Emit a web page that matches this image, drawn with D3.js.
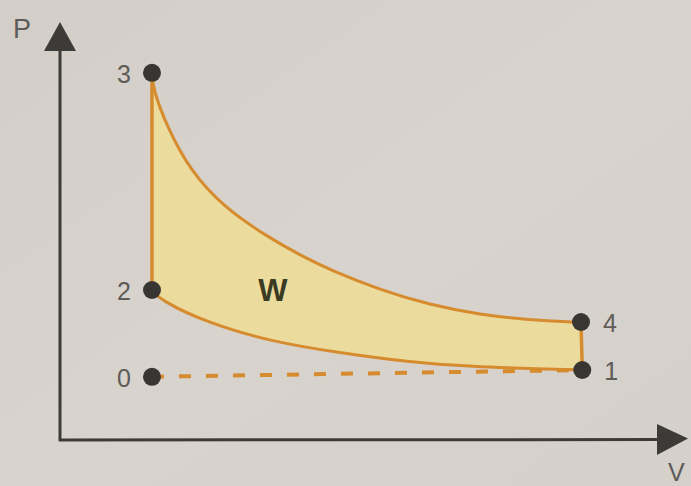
<!DOCTYPE html>
<html>
<head>
<meta charset="utf-8">
<script src="https://cdn.jsdelivr.net/npm/d3@7"></script>
<style>
  html, body { margin: 0; padding: 0; background: #d7d2cc; }
  svg { display: block; }
</style>
</head>
<body>
<div id="chart"></div>
<script>
// state points of the cycle (V, P in chart units)
var stateNames = ["0", "1", "2", "3", "4"];
var stateV = [1.46, 8.29, 1.46, 1.46, 8.27];
var stateP = [1.58, 1.75, 3.75, 9.18, 2.95];

// expansion 3 -> 4
var expV = [1.46, 1.48, 1.70, 2.06, 2.59, 3.29, 3.86, 4.29, 5.08, 5.87, 6.67, 7.46, 8.14, 8.27];
var expP = [9.18, 8.75, 7.83, 6.75, 5.83, 5.08, 4.58, 4.25, 3.75, 3.38, 3.13, 3.00, 2.95, 2.95];

// compression 1 -> 2 (stored left to right: 2 ... 1)
var compV = [1.46, 1.59, 2.33, 3.38, 4.44, 5.51, 6.56, 7.62, 8.29];
var compP = [3.75, 3.50, 2.93, 2.45, 2.18, 1.95, 1.83, 1.78, 1.75];

var width = 691, height = 486;
var lineColor = '#d68b2e';
var fillColor = '#ebdc9e';
var axisColor = '#3d3b38';
var dotColor = '#383633';
var labelColor = '#5e5c58';

var x = d3.scaleLinear().domain([0, 10]).range([60, 690]);
var y = d3.scaleLinear().domain([0, 10]).range([440, 40]);

var svg = d3.select("#chart").append("svg")
  .attr("width", width)
  .attr("height", height);

// paper background
var defs = svg.append("defs");
var grad = defs.append("linearGradient").attr("id", "paper")
  .attr("x1", 0).attr("y1", 0).attr("x2", 1).attr("y2", 1);
grad.append("stop").attr("offset", "0%").attr("stop-color", "#d3cec8");
grad.append("stop").attr("offset", "50%").attr("stop-color", "#d8d3cd");
grad.append("stop").attr("offset", "100%").attr("stop-color", "#d5d0ca");
svg.append("rect").attr("width", width).attr("height", height).attr("fill", "url(#paper)");

var expPts = expV.map((v, i) => [v, expP[i]]);
var compPts = compV.map((v, i) => [v, compP[i]]);

var line = d3.line()
  .x(d => x(d[0]))
  .y(d => y(d[1]))
  .curve(d3.curveBasis);

// enclosed work area: 3 -> 4 -> 1 -> 2 -> 3
var topPath = line(expPts);
var botRev = line(compPts.slice().reverse());
var areaPath = topPath + "L" + botRev.slice(1) + "Z";

svg.append("path")
  .attr("d", areaPath)
  .attr("fill", fillColor)
  .attr("stroke", "none");

// dashed intake line 0 -> 1
svg.append("line")
  .attr("x1", x(stateV[0])).attr("y1", y(stateP[0]))
  .attr("x2", x(stateV[1])).attr("y2", y(stateP[1]))
  .attr("stroke", lineColor)
  .attr("stroke-width", 4)
  .attr("stroke-dasharray", "12,15");

// process lines
svg.append("path").attr("d", topPath)
  .attr("fill", "none").attr("stroke", lineColor).attr("stroke-width", 3);
svg.append("path").attr("d", line(compPts))
  .attr("fill", "none").attr("stroke", lineColor).attr("stroke-width", 3);
// 2 -> 3 and 4 -> 1 vertical strokes
[[2, 3], [4, 1]].forEach(function(p) {
  svg.append("line")
    .attr("x1", x(stateV[p[0]])).attr("y1", y(stateP[p[0]]))
    .attr("x2", x(stateV[p[1]])).attr("y2", y(stateP[p[1]]))
    .attr("stroke", lineColor).attr("stroke-width", 3.5);
});

// axes with arrowheads
var x0 = x(0), y0 = y(0);
svg.append("line")
  .attr("x1", x0).attr("y1", y0 + 1).attr("x2", x0).attr("y2", 48)
  .attr("stroke", axisColor).attr("stroke-width", 3);
svg.append("path")
  .attr("d", `M${x0},22 L${x0 + 16},51 L${x0 - 16},51 Z`)
  .attr("fill", axisColor);
svg.append("line")
  .attr("x1", x0 - 1).attr("y1", y0).attr("x2", 662).attr("y2", y0 - 0.5)
  .attr("stroke", axisColor).attr("stroke-width", 3);
svg.append("path")
  .attr("d", `M688,${y0 - 1.5} L657,${y0 - 16} L657,${y0 + 15} Z`)
  .attr("fill", axisColor);

svg.append("text")
  .attr("x", 13).attr("y", 38)
  .attr("font-family", "Liberation Sans, Arial, sans-serif")
  .attr("font-size", 27)
  .attr("fill", labelColor)
  .text("P");
svg.append("text")
  .attr("x", 668).attr("y", 481)
  .attr("font-family", "Liberation Sans, Arial, sans-serif")
  .attr("font-size", 25)
  .attr("fill", labelColor)
  .text("V");

// state dots
svg.selectAll("circle.state")
  .data(stateNames)
  .enter().append("circle")
  .attr("class", "state")
  .attr("cx", (d, i) => x(stateV[i]))
  .attr("cy", (d, i) => y(stateP[i]))
  .attr("r", 9)
  .attr("fill", dotColor);

// state labels: left side for V at the left, right side otherwise
svg.selectAll("text.state")
  .data(stateNames)
  .enter().append("text")
  .attr("class", "state")
  .attr("x", (d, i) => stateV[i] < 5 ? x(stateV[i]) - 21 : x(stateV[i]) + 22)
  .attr("y", (d, i) => y(stateP[i]) + 1)
  .attr("dy", "0.35em")
  .attr("text-anchor", (d, i) => stateV[i] < 5 ? "end" : "start")
  .attr("font-family", "Liberation Sans, Arial, sans-serif")
  .attr("font-size", 25)
  .attr("fill", labelColor)
  .text(d => d);

svg.append("text")
  .attr("x", 273).attr("y", 290)
  .attr("dy", "0.35em")
  .attr("text-anchor", "middle")
  .attr("font-family", "Liberation Sans, Arial, sans-serif")
  .attr("font-weight", "bold")
  .attr("font-size", 31)
  .attr("fill", "#3b3a22")
  .text("W");
</script>
</body>
</html>
